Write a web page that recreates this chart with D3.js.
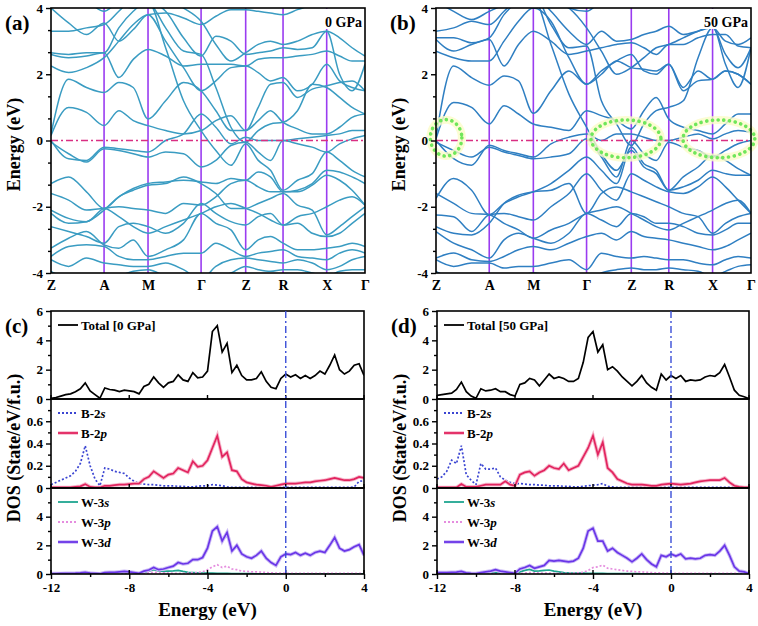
<!DOCTYPE html>
<html>
<head>
<meta charset="utf-8">
<script src="https://cdn.jsdelivr.net/npm/d3@7"></script>
<style>
  body { margin: 0; background: #fff; }
  text { font-family: "Liberation Serif", "Times New Roman", serif; font-weight: bold; }
</style>
</head>
<body>
<script>
// k-path of the band structures
const kLabels = ['Z', 'A', 'M', 'Γ', 'Z', 'R', 'X', 'Γ'];
const kTicks = [0, 0.169, 0.309, 0.478, 0.620, 0.739, 0.878, 1];
// k points where band energies were read
const kSample = [0, 0.056, 0.113, 0.169, 0.216, 0.262, 0.309, 0.365, 0.422, 0.478, 0.525,
  0.573, 0.620, 0.660, 0.699, 0.739, 0.785, 0.832, 0.878, 0.919, 0.959, 1];

// band energies (eV) at 0 GPa
const bands0 = [
  [4.0, 3.55, 3.2, 3.55, 3.0, 3.35, 3.8, 3.85, 3.7, 3.5, 3.75, 3.95, 3.95, 3.9, 3.85, 3.8, 3.95, 4.1, 4.3, 4.3, 4.3, 4.3],
  [2.65, 2.6, 2.65, 2.65, 3.4, 3.9, 4.2, 3.9, 3.1, 2.55, 3.15, 3.0, 2.6, 2.65, 2.7, 2.8, 2.75, 2.8, 3.3, 3.1, 2.8, 2.55],
  [2.6, 2.5, 2.55, 2.65, 1.9, 2.45, 2.75, 2.55, 2.25, 2.3, 2.3, 2.3, 2.25, 2.45, 2.5, 2.5, 2.55, 2.6, 2.7, 2.55, 2.4, 2.4],
  [2.25, 2.05, 2.2, 2.5, 3.0, 3.5, 3.8, 3.0, 2.2, 1.5, 1.8, 2.2, 2.25, 2.05, 1.8, 1.9, 1.5, 1.7, 2.3, 1.8, 1.6, 1.5],
  [0.2, 1.85, 1.6, 1.45, 1.75, 1.6, 0.65, 1.2, 1.75, 1.5, 0.9, 0.3, 0.3, 1.0, 1.7, 1.75, 1.3, 1.55, 1.65, 1.75, 1.8, 1.5],
  [0.15, 1.0, 0.85, 0.45, 0.9, 0.6, 0.45, 0.3, 0.2, 0.3, 0.6, 0.75, 0.3, 0.6, 0.9, 0.55, 0.35, 0.2, 0.2, 0.4, 0.7, 0.8],
  [0.0, -0.55, -0.6, -0.2, -0.25, -0.3, -0.35, 0.0, 0.2, 0.8, 0.4, -0.1, 0.1, 0.0, 0.0, 0.0, 0.05, 0.1, 0.15, 0.2, 0.3, 0.3],
  [-0.05, -0.4, -0.65, -0.25, -0.3, -0.4, -0.5, -0.35, -0.4, -0.8, -0.6, -0.15, -0.05, -0.35, -0.6, 0.0, -0.1, -0.2, -0.35, -0.1, 0.05, 0.15],
  [-1.3, -1.1, -1.55, -2.05, -1.7, -1.45, -1.3, -1.25, -1.2, -1.25, -1.3, -1.15, -1.2, -0.95, -1.1, -1.55, -1.5, -1.3, -0.9, -0.95, -1.1, -1.3],
  [-2.1, -2.35, -2.45, -2.05, -2.0, -2.05, -2.1, -2.2, -1.9, -1.95, -1.7, -1.3, -1.2, -1.4, -1.55, -1.55, -1.55, -1.35, -1.05, -1.2, -1.5, -1.95],
  [-2.2, -2.5, -2.45, -2.1, -1.7, -1.5, -1.35, -1.3, -1.1, -1.3, -1.6, -2.05, -2.05, -1.9, -1.75, -1.6, -1.95, -2.1, -2.85, -2.6, -2.3, -2.0],
  [-2.6, -2.75, -2.9, -3.1, -2.6, -2.5, -2.6, -2.8, -2.5, -1.9, -2.2, -2.45, -2.55, -2.3, -2.2, -2.55, -2.5, -2.8, -2.9, -2.8, -2.5, -2.2],
  [-3.25, -2.95, -2.75, -3.15, -3.25, -3.0, -3.5, -3.3, -3.0, -2.2, -2.5, -2.7, -3.3, -3.0, -2.9, -3.1, -3.3, -3.3, -3.25, -3.2, -3.1, -3.2],
  [-3.5, -3.2, -3.15, -3.2, -3.5, -3.6, -3.6, -3.5, -3.4, -3.4, -3.1, -3.3, -3.5, -3.4, -3.35, -3.3, -3.5, -3.55, -3.6, -3.4, -3.3, -3.4],
  [-3.6, -3.8, -3.55, -3.7, -3.75, -3.8, -3.8, -3.7, -3.9, -4.2, -3.8, -3.6, -3.55, -3.6, -3.65, -3.7, -3.6, -3.7, -3.9, -3.8, -3.6, -3.5],
  [-3.95, -4.2, -4.3, -4.3, -4.1, -3.95, -3.9, -4.1, -4.3, -4.5, -4.2, -4.0, -3.8, -3.9, -3.95, -3.9, -3.9, -4.0, -4.1, -3.95, -3.9, -3.9],
  [4.4, 4.3, 4.2, 3.9, 4.2, 4.3, 4.2, 3.4, 2.7, 2.6, 1.6, 0.4, -0.05, 0.3, 0.5, 0.55, 0.9, 1.7, 1.6, 1.3, 1.0, 0.8],
  [4.5, 4.5, 4.4, 4.3, 4.1, 4.0, 4.2, 2.8, 1.2, 0.3, -0.3, -0.75, -0.1, -0.6, -0.9, -1.5, -1.2, -1.0, -0.35, -0.6, -0.9, -1.1],
  [3.3, 3.3, 3.4, 3.5, 3.9, 4.3, 4.4, 4.3, 4.0, 3.6, 2.9, 2.4, 2.65, 2.9, 3.0, 2.9, 3.0, 3.2, 3.3, 2.0, 1.5, 2.3],
  [-1.6, -1.8, -2.1, -2.05, -2.3, -2.6, -2.8, -2.6, -2.4, -2.2, -2.0, -1.9, -2.05, -2.2, -2.4, -2.55, -2.3, -2.2, -2.0, -1.8, -1.7, -1.95]
];

// band energies (eV) at 50 GPa
const bands50 = [
  [4.2, 3.9, 3.65, 3.9, 4.1, 4.3, 4.3, 4.3, 4.0, 3.9, 4.2, 4.3, 4.2, 4.1, 4.2, 4.3, 4.3, 4.3, 4.3, 4.3, 4.3, 4.3],
  [3.1, 3.1, 2.95, 3.1, 3.8, 4.2, 4.4, 3.9, 3.3, 2.9, 3.3, 3.0, 3.05, 3.2, 3.3, 3.45, 3.2, 3.3, 3.4, 3.0, 2.9, 3.1],
  [3.05, 2.7, 2.9, 3.05, 2.25, 2.9, 3.3, 3.0, 2.6, 2.7, 2.8, 2.9, 2.95, 2.8, 2.6, 2.9, 2.9, 3.1, 3.2, 3.2, 2.85, 2.8],
  [2.7, 2.5, 2.4, 2.4, 3.0, 3.6, 4.0, 3.6, 2.5, 1.7, 2.1, 2.4, 2.6, 2.1, 2.0, 2.3, 1.6, 2.1, 1.85, 2.1, 2.0, 1.7],
  [0.1, 2.25, 1.9, 1.67, 1.95, 1.8, 0.82, 1.5, 2.1, 1.7, 2.0, 2.4, 2.2, 2.15, 2.1, 2.3, 1.5, 1.8, 1.85, 2.1, 2.0, 1.7],
  [0.05, 1.15, 1.0, 0.5, 1.05, 0.8, 0.5, 0.4, 0.3, 0.9, 0.75, 0.6, 0.35, 0.9, 1.3, 0.65, 0.4, 0.3, 0.2, 0.5, 0.8, 0.8],
  [0.0, -0.55, -0.75, -0.14, -0.3, -0.4, -0.5, -0.1, 0.1, 0.2, 0.0, 0.2, 0.2, 0.1, 0.0, 0.0, 0.1, 0.2, 0.05, 0.2, 0.3, 0.25],
  [-0.05, -0.3, -0.5, -0.2, -0.35, -0.45, -0.55, -0.5, -0.4, 0.05, -0.5, -1.1, 0.0, -0.4, -0.6, -0.05, -0.2, -0.3, -0.5, -0.3, -0.1, 0.0],
  [-1.75, -1.15, -1.5, -2.24, -1.9, -1.7, -1.55, -1.3, -0.9, -0.5, -0.9, -1.3, -0.2, -0.7, -0.9, -1.5, -1.4, -1.2, -0.9, -1.0, -1.05, -1.05],
  [-2.25, -2.3, -2.75, -2.24, -2.2, -2.3, -2.4, -2.0, -1.6, -1.0, -1.5, -1.8, -1.0, -1.2, -1.4, -1.55, -1.6, -1.4, -1.1, -1.4, -1.8, -2.2],
  [-2.6, -2.8, -2.85, -2.5, -1.9, -1.65, -1.55, -1.5, -1.3, -2.2, -1.6, -1.4, -1.55, -1.7, -1.85, -2.0, -2.2, -2.3, -2.8, -2.5, -2.3, -2.2],
  [-2.75, -3.1, -3.3, -3.55, -3.0, -2.8, -2.95, -3.1, -2.8, -2.2, -2.4, -2.6, -2.2, -2.3, -2.5, -2.5, -2.6, -2.8, -2.85, -2.7, -2.5, -2.5],
  [-3.55, -3.4, -3.6, -3.65, -3.5, -3.3, -3.2, -3.3, -3.1, -2.9, -2.8, -3.0, -2.75, -2.9, -2.95, -3.0, -3.1, -3.2, -3.3, -3.2, -3.0, -2.8],
  [-3.6, -3.8, -3.7, -3.7, -3.85, -3.8, -3.8, -3.7, -3.6, -3.9, -3.4, -3.5, -3.55, -3.5, -3.55, -3.6, -3.6, -3.7, -3.75, -3.6, -3.5, -3.55],
  [-3.95, -4.2, -4.3, -4.3, -4.2, -4.1, -4.0, -4.1, -4.3, -4.4, -4.0, -3.9, -3.85, -3.9, -3.9, -3.85, -3.9, -3.95, -4.1, -3.95, -3.8, -3.75],
  [4.4, 4.3, 4.2, 4.0, 4.3, 4.4, 4.4, 3.5, 2.8, 2.85, 1.2, 0.5, -0.15, 0.5, 0.9, 1.0, 1.2, 2.5, 3.4, 2.6, 2.2, 2.8],
  [4.5, 4.5, 4.4, 4.3, 4.2, 4.1, 4.3, 2.9, 1.4, 0.4, -0.4, -0.9, -0.3, -0.8, -1.0, -1.5, -1.1, -0.8, -0.45, -0.6, -0.85, -1.05],
  [3.3, 3.4, 3.6, 3.5, 3.9, 4.3, 4.4, 4.3, 4.0, 3.4, 2.7, 2.0, 2.2, 2.5, 2.8, 2.9, 3.1, 3.3, 3.45, 2.3, 1.6, 2.8],
  [-1.6, -1.9, -2.2, -2.24, -2.5, -2.7, -2.95, -2.7, -2.5, -2.2, -2.1, -2.0, -2.2, -2.4, -2.6, -2.7, -2.5, -2.3, -2.1, -1.9, -1.8, -2.2]
];

// green dotted marks on the 50 GPa bands: centre k, centre E, half-widths in k and E
const marks50 = [
  { k: 0.032, e: 0.08, rk: 0.05, re: 0.55 },
  { k: 0.603, e: 0.05, rk: 0.111, re: 0.57 },
  { k: 0.898, e: 0.05, rk: 0.114, re: 0.57 }
];

// DOS energy grid (eV)
const dosE = [-12, -11.75, -11.5, -11.25, -11, -10.75, -10.5, -10.25, -10, -9.75, -9.5, -9.25, -9,
  -8.75, -8.5, -8.25, -8, -7.75, -7.5, -7.25, -7, -6.75, -6.5, -6.25, -6, -5.75, -5.5, -5.25, -5,
  -4.75, -4.5, -4.25, -4, -3.75, -3.5, -3.25, -3, -2.75, -2.5, -2.25, -2, -1.75, -1.5, -1.25, -1,
  -0.75, -0.5, -0.25, 0, 0.25, 0.5, 0.75, 1, 1.25, 1.5, 1.75, 2, 2.25, 2.5, 2.75, 3, 3.25, 3.5, 3.75, 4];

// 0 GPa DOS
const tot0 = [0.05, 0.1, 0.2, 0.3, 0.35, 0.5, 0.7, 1.1, 0.55, 0.3, 0.05, 0.75, 0.65, 0.6, 0.5, 0.6, 0.55,
  0.5, 0.35, 0.85, 1.0, 1.5, 1.1, 0.8, 1.1, 1.2, 1.65, 1.3, 1.2, 1.8, 1.45, 1.5, 1.9, 4.6, 5.0, 3.2, 3.8,
  1.8, 2.3, 1.6, 1.3, 1.3, 1.4, 1.85, 1.2, 0.8, 0.7, 1.4, 1.7, 1.5, 1.65, 1.4, 1.6, 1.4, 1.6, 1.9, 1.7,
  2.3, 3.0, 2.0, 1.7, 1.9, 2.3, 2.4, 1.6];
const b2s0 = [0.03, 0.05, 0.07, 0.09, 0.11, 0.15, 0.22, 0.38, 0.2, 0.08, 0.02, 0.18, 0.17, 0.15, 0.14, 0.13,
  0.09, 0.06, 0.04, 0.035, 0.03, 0.03, 0.025, 0.02, 0.02, 0.02, 0.015, 0.015, 0.01, 0.01, 0.015, 0.02, 0.02,
  0.03, 0.025, 0.02, 0.01, 0.005, 0.005, 0.005, 0.005, 0.005, 0.005, 0.005, 0.005, 0.005, 0.005, 0.005,
  0.005, 0.005, 0.005, 0.005, 0.005, 0.005, 0.005, 0.005, 0.005, 0.005, 0.005, 0.005, 0.005, 0.005, 0.01,
  0.06, 0.065];
const b2p0 = [0.005, 0.005, 0.005, 0.005, 0.005, 0.01, 0.015, 0.035, 0.01, 0.005, 0.005, 0.02, 0.02, 0.025,
  0.03, 0.03, 0.035, 0.04, 0.04, 0.08, 0.1, 0.15, 0.12, 0.09, 0.12, 0.13, 0.18, 0.16, 0.14, 0.24, 0.19, 0.2,
  0.25, 0.36, 0.47, 0.28, 0.32, 0.16, 0.15, 0.08, 0.05, 0.04, 0.03, 0.025, 0.02, 0.01, 0.02, 0.03, 0.04,
  0.04, 0.04, 0.045, 0.05, 0.05, 0.06, 0.065, 0.07, 0.08, 0.09, 0.08, 0.07, 0.07, 0.08, 0.1, 0.09];
const w3s0 = [0.03, 0.03, 0.04, 0.04, 0.05, 0.06, 0.07, 0.08, 0.05, 0.04, 0.02, 0.04, 0.05, 0.05, 0.06, 0.07,
  0.06, 0.05, 0.04, 0.1, 0.2, 0.3, 0.22, 0.18, 0.2, 0.22, 0.25, 0.18, 0.12, 0.1, 0.08, 0.07, 0.06, 0.06,
  0.05, 0.04, 0.04, 0.03, 0.03, 0.02, 0.02, 0.02, 0.015, 0.015, 0.01, 0.01, 0.01, 0.01, 0.01, 0.01, 0.01,
  0.01, 0.01, 0.01, 0.01, 0.01, 0.01, 0.01, 0.01, 0.01, 0.01, 0.01, 0.01, 0.01, 0.01];
const w3p0 = [0.01, 0.01, 0.01, 0.01, 0.01, 0.01, 0.01, 0.01, 0.01, 0.01, 0.01, 0.01, 0.01, 0.01, 0.01, 0.01,
  0.01, 0.01, 0.02, 0.04, 0.08, 0.12, 0.1, 0.08, 0.06, 0.05, 0.05, 0.05, 0.06, 0.08, 0.1, 0.15, 0.3, 0.5,
  0.65, 0.45, 0.55, 0.35, 0.3, 0.2, 0.18, 0.15, 0.15, 0.13, 0.1, 0.08, 0.06, 0.06, 0.05, 0.05, 0.04, 0.04,
  0.04, 0.04, 0.04, 0.04, 0.04, 0.04, 0.04, 0.04, 0.04, 0.04, 0.04, 0.04, 0.04];
const w3d0 = [0.03, 0.03, 0.04, 0.05, 0.05, 0.06, 0.08, 0.12, 0.06, 0.04, 0.02, 0.1, 0.12, 0.12, 0.15, 0.18,
  0.15, 0.1, 0.05, 0.2, 0.28, 0.45, 0.3, 0.35, 0.45, 0.55, 0.8, 0.7, 0.75, 1.0, 1.0, 1.15, 1.8, 3.0, 3.3,
  2.3, 2.9, 1.6, 2.0, 1.4, 1.2, 1.1, 1.3, 1.6, 1.1, 0.8, 0.6, 1.2, 1.4, 1.35, 1.5, 1.3, 1.45, 1.3, 1.5,
  1.6, 1.5, 2.0, 2.55, 1.8, 1.6, 1.7, 1.9, 2.05, 1.3];

// 50 GPa DOS
const tot50 = [0.25, 0.3, 0.35, 0.4, 0.65, 1.15, 0.5, 0.2, 0.05, 0.7, 0.55, 0.6, 0.7, 0.5, 0.5, 0.3, 0.2,
  1.0, 1.1, 1.4, 1.3, 0.9, 1.3, 1.7, 1.4, 1.5, 1.4, 1.2, 1.2, 1.4, 2.5, 4.2, 4.6, 3.2, 3.7, 2.0, 2.2, 1.9,
  1.5, 1.2, 0.9, 1.2, 1.6, 1.1, 0.8, 0.6, 1.7, 1.3, 1.6, 1.4, 1.6, 1.2, 1.3, 1.25, 1.3, 1.5, 1.6, 1.55,
  1.8, 2.35, 1.5, 0.6, 0.25, 0.15, 0.02];
const b2s50 = [0.08, 0.1, 0.15, 0.25, 0.22, 0.38, 0.12, 0.07, 0.03, 0.22, 0.17, 0.17, 0.18, 0.1, 0.07, 0.05,
  0.04, 0.04, 0.035, 0.03, 0.03, 0.025, 0.025, 0.02, 0.02, 0.02, 0.015, 0.015, 0.01, 0.01, 0.015, 0.02,
  0.025, 0.03, 0.04, 0.015, 0.01, 0.005, 0.005, 0.005, 0.005, 0.005, 0.005, 0.005, 0.005, 0.005, 0.005,
  0.005, 0.005, 0.005, 0.005, 0.005, 0.005, 0.005, 0.005, 0.005, 0.005, 0.005, 0.005, 0.005, 0.005, 0.005,
  0.005, 0.005, 0.005];
const b2p50 = [0.005, 0.005, 0.005, 0.005, 0.005, 0.035, 0.01, 0.01, 0.01, 0.02, 0.03, 0.03, 0.03, 0.03, 0.06,
  0.03, 0.02, 0.12, 0.14, 0.15, 0.11, 0.14, 0.16, 0.2, 0.18, 0.17, 0.22, 0.16, 0.18, 0.2, 0.28, 0.36, 0.47,
  0.3, 0.41, 0.18, 0.14, 0.08, 0.06, 0.04, 0.03, 0.03, 0.03, 0.025, 0.02, 0.02, 0.03, 0.035, 0.04, 0.035,
  0.03, 0.035, 0.04, 0.05, 0.06, 0.065, 0.07, 0.07, 0.07, 0.09, 0.05, 0.02, 0.01, 0.005, 0.005];
const w3s50 = [0.08, 0.08, 0.09, 0.09, 0.1, 0.12, 0.1, 0.08, 0.06, 0.07, 0.08, 0.08, 0.09, 0.08, 0.07, 0.06,
  0.05, 0.15, 0.25, 0.32, 0.2, 0.22, 0.25, 0.28, 0.2, 0.15, 0.1, 0.08, 0.07, 0.06, 0.06, 0.05, 0.05, 0.04,
  0.04, 0.03, 0.03, 0.03, 0.02, 0.02, 0.02, 0.02, 0.015, 0.015, 0.01, 0.01, 0.01, 0.01, 0.01, 0.01, 0.01,
  0.01, 0.01, 0.01, 0.01, 0.01, 0.01, 0.01, 0.01, 0.01, 0.01, 0.01, 0.01, 0.01, 0.01];
const w3p50 = [0.02, 0.02, 0.02, 0.02, 0.02, 0.02, 0.02, 0.02, 0.02, 0.02, 0.02, 0.02, 0.02, 0.02, 0.02, 0.02,
  0.02, 0.04, 0.06, 0.1, 0.08, 0.07, 0.06, 0.06, 0.05, 0.05, 0.05, 0.05, 0.06, 0.08, 0.12, 0.25, 0.45, 0.5,
  0.62, 0.4, 0.35, 0.3, 0.25, 0.2, 0.18, 0.15, 0.14, 0.12, 0.1, 0.08, 0.07, 0.06, 0.05, 0.04, 0.04, 0.04,
  0.04, 0.04, 0.04, 0.04, 0.04, 0.04, 0.04, 0.04, 0.04, 0.04, 0.04, 0.04, 0.04];
const w3d50 = [0.1, 0.1, 0.1, 0.12, 0.13, 0.18, 0.08, 0.05, 0.03, 0.1, 0.15, 0.2, 0.3, 0.2, 0.15, 0.1, 0.05,
  0.35, 0.45, 0.6, 0.4, 0.5, 0.6, 0.95, 0.9, 0.95, 0.9, 0.85, 0.9, 1.1, 1.8, 3.0, 3.2, 2.3, 2.3, 1.6, 1.8,
  1.5, 1.3, 1.1, 0.85, 1.1, 1.4, 1.0, 0.7, 0.5, 1.3, 1.2, 1.4, 1.25, 1.4, 1.05, 1.1, 1.05, 1.1, 1.3, 1.35,
  1.3, 1.6, 2.0, 1.3, 0.5, 0.2, 0.15, 0.02];

const W = 758, H = 626;
const svg = d3.select('body').append('svg').attr('width', W).attr('height', H);
svg.append('rect').attr('width', W).attr('height', H).attr('fill', '#fff');

const bandTop = 8, bandBot = 273;

function bandPanel(opt) {
  const xs = d3.scaleLinear().domain([0, 1]).range([opt.x0, opt.x1]);
  const ys = d3.scaleLinear().domain([-4, 4]).range([bandBot, bandTop]);
  const g = svg.append('g');

  svg.append('clipPath').attr('id', 'clip' + opt.id)
    .append('rect').attr('x', opt.x0).attr('y', bandTop)
    .attr('width', opt.x1 - opt.x0).attr('height', bandBot - bandTop);
  const plot = g.append('g').attr('clip-path', 'url(#clip' + opt.id + ')');

  // high-symmetry lines
  plot.selectAll('line.k').data(kTicks.slice(1, -1)).join('line')
    .attr('x1', d => xs(d)).attr('x2', d => xs(d))
    .attr('y1', bandTop).attr('y2', bandBot)
    .attr('stroke', '#9a3cf0').attr('stroke-width', 1.6);

  const line = d3.line()
    .x((d, i) => xs(kSample[i]))
    .y(d => ys(d))
    .curve(d3.curveMonotoneX);

  plot.selectAll('path.band').data(opt.bands).join('path')
    .attr('d', line)
    .attr('fill', 'none')
    .attr('stroke', opt.color)
    .attr('stroke-width', 1.5);

  // Fermi level
  plot.append('line')
    .attr('x1', opt.x0).attr('x2', opt.x1)
    .attr('y1', ys(0)).attr('y2', ys(0))
    .attr('stroke', '#d92f82').attr('stroke-width', 1.6)
    .attr('stroke-dasharray', '7,3,2,3');

  if (opt.marks) {
    const ell = g.selectAll('g.mark').data(opt.marks).join('g');
    ell.append('ellipse')
      .attr('cx', d => xs(d.k)).attr('cy', d => ys(d.e))
      .attr('rx', d => xs(d.rk) - xs(0)).attr('ry', d => ys(0) - ys(d.re))
      .attr('fill', 'none').attr('stroke', '#fbfbc8').attr('stroke-width', 8).attr('opacity', 0.8);
    ell.append('ellipse')
      .attr('cx', d => xs(d.k)).attr('cy', d => ys(d.e))
      .attr('rx', d => xs(d.rk) - xs(0)).attr('ry', d => ys(0) - ys(d.re))
      .attr('fill', 'none').attr('stroke', '#6fe65a').attr('stroke-width', 3.6)
      .attr('stroke-linecap', 'round').attr('stroke-dasharray', '0.1,5.6');
  }

  // pressure label on white
  g.append('rect').attr('x', opt.x1 - 50).attr('y', bandTop + 1)
    .attr('width', 49).attr('height', 20).attr('fill', '#fff');
  g.append('text').attr('x', opt.x1 - 3).attr('y', 27)
    .attr('text-anchor', 'end').attr('font-size', 14).text(opt.pressure);

  g.append('rect').attr('x', opt.x0).attr('y', bandTop)
    .attr('width', opt.x1 - opt.x0).attr('height', bandBot - bandTop)
    .attr('fill', 'none').attr('stroke', '#000').attr('stroke-width', 1.6);

  // y axis
  const yMajor = g.append('g').attr('transform', 'translate(' + opt.x0 + ',0)')
    .call(d3.axisLeft(ys).tickValues([-4, -2, 0, 2, 4]).tickSize(5).tickPadding(3)
      .tickFormat(d => String(d)));
  const yMinor = g.append('g').attr('transform', 'translate(' + opt.x0 + ',0)')
    .call(d3.axisLeft(ys).tickValues([-10 / 3, -8 / 3, -4 / 3, -2 / 3, 2 / 3, 4 / 3, 8 / 3, 10 / 3])
      .tickSize(3).tickFormat(''));
  [yMajor, yMinor].forEach(a => {
    a.select('.domain').remove();
    a.selectAll('line').attr('stroke-width', 1.4);
  });
  yMajor.selectAll('text').attr('font-size', 13).attr('fill', '#000')
    .attr('font-family', '"Liberation Serif", serif').attr('font-weight', 'bold');

  // k labels
  const xAx = g.append('g').attr('transform', 'translate(0,' + bandBot + ')')
    .call(d3.axisBottom(xs).tickValues(kTicks).tickSize(0).tickPadding(7)
      .tickFormat((d, i) => kLabels[i]));
  xAx.select('.domain').remove();
  xAx.selectAll('text').attr('font-size', 14).attr('fill', '#000')
    .attr('font-family', '"Liberation Serif", serif').attr('font-weight', 'bold');

  g.append('text').attr('x', opt.x0 - 46).attr('y', 30).attr('font-size', 21).text(opt.tag);
  g.append('text')
    .attr('transform', 'translate(' + (opt.x0 - 31) + ',' + ((bandTop + bandBot) / 2 + 4) + ') rotate(-90)')
    .attr('text-anchor', 'middle').attr('font-size', 18).text('Energy (eV)');
}

const dosTop = 311, dosMid1 = 399, dosMid2 = 488, dosBot = 574;

function dosPanel(opt) {
  const xs = d3.scaleLinear().domain([-12, 4]).range([opt.x0, opt.x1]);
  const g = svg.append('g');
  const subs = [
    { top: dosTop, bot: dosMid1, max: 6, major: [0, 2, 4, 6], minor: [1, 3, 5],
      series: [{ y: opt.tot, color: '#000', dash: null, name: 'Total [' + opt.pressure + ']' }] },
    { top: dosMid1, bot: dosMid2, max: 0.8, major: [0, 0.2, 0.4, 0.6], minor: [0.1, 0.3, 0.5, 0.7],
      series: [
        { y: opt.b2s, color: '#3b45d2', dash: '2,2', name: 'B-2', orb: 's' },
        { y: opt.b2p, color: '#e2245f', halo: '#f6b8cc', dash: null, name: 'B-2', orb: 'p' }
      ] },
    { top: dosMid2, bot: dosBot, max: 6, major: [0, 2, 4], minor: [1, 3, 5],
      series: [
        { y: opt.w3s, color: '#1fa590', dash: null, name: 'W-3', orb: 's' },
        { y: opt.w3p, color: '#e58ddf', dash: '2,2', name: 'W-3', orb: 'p' },
        { y: opt.w3d, color: '#6a36e8', halo: '#cdbdf6', dash: null, name: 'W-3', orb: 'd' }
      ] }
  ];

  subs.forEach((s, si) => {
    const ys = d3.scaleLinear().domain([0, s.max]).range([s.bot, s.top]);
    const cid = 'dclip' + opt.id + si;
    svg.append('clipPath').attr('id', cid).append('rect')
      .attr('x', opt.x0).attr('y', s.top).attr('width', opt.x1 - opt.x0).attr('height', s.bot - s.top);
    const plot = g.append('g').attr('clip-path', 'url(#' + cid + ')');
    const line = d3.line().x((d, i) => xs(dosE[i])).y(d => ys(d));

    s.series.forEach(sr => {
      if (sr.halo) {
        plot.append('path').attr('d', line(sr.y)).attr('fill', 'none')
          .attr('stroke', sr.halo).attr('stroke-width', 3.6);
      }
      plot.append('path').attr('d', line(sr.y)).attr('fill', 'none')
        .attr('stroke', sr.color).attr('stroke-width', 1.7)
        .attr('stroke-dasharray', sr.dash);
    });

    // legend
    s.series.forEach((sr, li) => {
      const ly = s.top + 14 + li * 20;
      if (sr.halo) {
        g.append('line').attr('x1', opt.x0 + 7).attr('x2', opt.x0 + 27).attr('y1', ly).attr('y2', ly)
          .attr('stroke', sr.halo).attr('stroke-width', 3.6);
      }
      g.append('line').attr('x1', opt.x0 + 7).attr('x2', opt.x0 + 27).attr('y1', ly).attr('y2', ly)
        .attr('stroke', sr.color).attr('stroke-width', 1.8).attr('stroke-dasharray', sr.dash);
      const t = g.append('text').attr('x', opt.x0 + 30).attr('y', ly + 4.5).attr('font-size', 13).text(sr.name);
      if (sr.orb) t.append('tspan').attr('font-style', 'italic').text(sr.orb);
    });

    const aMaj = g.append('g').attr('transform', 'translate(' + opt.x0 + ',0)')
      .call(d3.axisLeft(ys).tickValues(s.major).tickSize(5).tickPadding(3)
        .tickFormat(d => d === 0 ? '0' : (s.max < 1 ? d3.format('.1f')(d) : String(d))));
    const aMin = g.append('g').attr('transform', 'translate(' + opt.x0 + ',0)')
      .call(d3.axisLeft(ys).tickValues(s.minor).tickSize(3).tickFormat(''));
    [aMaj, aMin].forEach(a => {
      a.select('.domain').remove();
      a.selectAll('line').attr('stroke-width', 1.4);
    });
    aMaj.selectAll('text').attr('font-size', 13).attr('fill', '#000')
      .attr('font-family', '"Liberation Serif", serif').attr('font-weight', 'bold');

    // inner ticks along each sub-panel bottom
    g.selectAll(null).data([-12, -8, -4, 0, 4]).join('line')
      .attr('x1', d => xs(d)).attr('x2', d => xs(d))
      .attr('y1', s.bot).attr('y2', s.bot - 4)
      .attr('stroke', '#000').attr('stroke-width', 1.4);

    g.append('rect').attr('x', opt.x0).attr('y', s.top)
      .attr('width', opt.x1 - opt.x0).attr('height', s.bot - s.top)
      .attr('fill', 'none').attr('stroke', '#000').attr('stroke-width', 1.6);
  });

  // Fermi level
  g.append('line').attr('x1', xs(0)).attr('x2', xs(0)).attr('y1', dosTop).attr('y2', dosBot)
    .attr('stroke', '#3b4fd8').attr('stroke-width', 1.4).attr('stroke-dasharray', '7,3,2,3');

  const xMaj = g.append('g').attr('transform', 'translate(0,' + dosBot + ')')
    .call(d3.axisBottom(xs).tickValues([-12, -8, -4, 0, 4]).tickSize(5).tickPadding(4)
      .tickFormat(d => String(d)));
  const xMin = g.append('g').attr('transform', 'translate(0,' + dosBot + ')')
    .call(d3.axisBottom(xs).tickValues([-10, -6, -2, 2]).tickSize(3).tickFormat(''));
  [xMaj, xMin].forEach(a => {
    a.select('.domain').remove();
    a.selectAll('line').attr('stroke-width', 1.4);
  });
  xMaj.selectAll('text').attr('font-size', 13).attr('fill', '#000')
    .attr('font-family', '"Liberation Serif", serif').attr('font-weight', 'bold');

  g.append('text').attr('x', (opt.x0 + opt.x1) / 2).attr('y', 616)
    .attr('text-anchor', 'middle').attr('font-size', 19).text('Energy (eV)');
  g.append('text').attr('x', opt.x0 - 46).attr('y', 333).attr('font-size', 21).text(opt.tag);
  g.append('text')
    .attr('transform', 'translate(' + (opt.x0 - 31) + ',448) rotate(-90)')
    .attr('text-anchor', 'middle').attr('font-size', 18).text('DOS (State/eV/f.u.)');
}

bandPanel({ id: 'a', x0: 51, x1: 365, bands: bands0, color: '#3a9cc2', pressure: '0 GPa', tag: '(a)' });
bandPanel({ id: 'b', x0: 436, x1: 751, bands: bands50, color: '#2f7fc2', pressure: '50 GPa', tag: '(b)', marks: marks50 });
dosPanel({ id: 'c', x0: 51, x1: 364, pressure: '0 GPa', tag: '(c)',
  tot: tot0, b2s: b2s0, b2p: b2p0, w3s: w3s0, w3p: w3p0, w3d: w3d0 });
dosPanel({ id: 'd', x0: 437, x1: 749, pressure: '50 GPa', tag: '(d)',
  tot: tot50, b2s: b2s50, b2p: b2p50, w3s: w3s50, w3p: w3p50, w3d: w3d50 });
</script>
</body>
</html>
